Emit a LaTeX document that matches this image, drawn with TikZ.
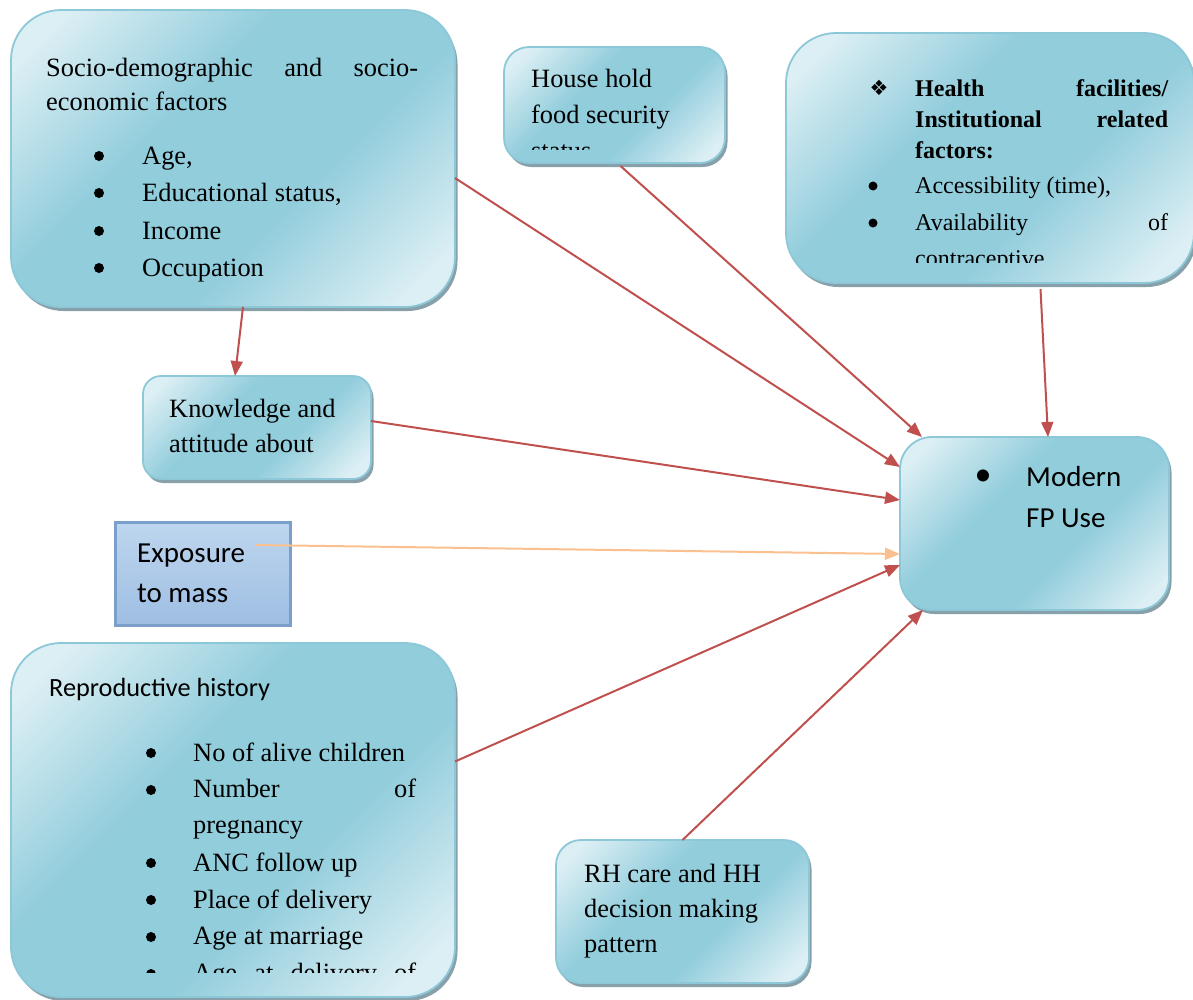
\documentclass[tikz,border=0pt]{standalone}
\usepackage{fontspec}
\setmainfont{Liberation Serif}
\newfontfamily\calibri{Carlito}
\newfontfamily\dejavu{DejaVu Sans}
\usetikzlibrary{arrows.meta,shadows}
\definecolor{gl}{RGB}{220,239,244}
\definecolor{gd}{RGB}{146,205,220}
\definecolor{bord}{RGB}{140,200,216}
\definecolor{shg}{RGB}{135,160,170}
\definecolor{arr}{RGB}{192,80,77}
\definecolor{org}{RGB}{250,192,144}
\definecolor{expt}{RGB}{190,214,239}
\definecolor{expb}{RGB}{158,190,226}
\definecolor{expd}{RGB}{122,159,203}
\pgfdeclareverticalshading{bluegrad}{100bp}{color(0bp)=(gl); color(20bp)=(gl); color(40bp)=(gd); color(60bp)=(gd); color(80bp)=(gl); color(100bp)=(gl)}
\tikzset{
  box/.style={draw=bord, line width=1.8pt, shade, shading=bluegrad, shading angle=45,
    inner sep=0, outer sep=0,
    drop shadow={shadow xshift=2.5pt, shadow yshift=-4pt, fill=shg, opacity=1}},
  expbox/.style={draw=expd, line width=3pt, top color=expt, bottom color=expb, inner sep=0, outer sep=0},
  txt/.style={anchor=base west, inner sep=0, font=\fontsize{26.4}{30}\selectfont},
  htxt/.style={anchor=base west, inner sep=0, font=\fontsize{24}{28}\selectfont},
  hbold/.style={anchor=base west, inner sep=0, font=\fontsize{24}{28}\selectfont\bfseries},
  cal/.style={anchor=base west, inner sep=0, font=\calibri\fontsize{29}{34}\selectfont},
  calsm/.style={anchor=base west, inner sep=0, font=\calibri\fontsize{26.3}{30}\selectfont},
  bul/.style={circle, fill=black, inner sep=0, minimum size=10pt},
  hbul/.style={circle, fill=black, inner sep=0, minimum size=9pt},
  cbul/.style={inner sep=0, font=\calibri\fontsize{34}{34}\selectfont},
  arrow/.style={draw=arr, line width=2pt, -{Triangle[length=15pt,width=12pt]}},
  oarrow/.style={draw=org, line width=2pt, -{Triangle[length=15pt,width=12pt]}}
}
\begin{document}
\begin{tikzpicture}[x=1pt,y=-1pt]
\useasboundingbox (0,0) rectangle (1193,999);

% boxes
\node[box, rounded corners=50pt, minimum width=444pt, minimum height=297pt] (socio) at (233,158.5) {};
\node[box, rounded corners=25pt, minimum width=221pt, minimum height=116pt] (house) at (614.5,105) {};
\node[box, rounded corners=50pt, minimum width=408pt, minimum height=250pt] (health) at (990,158) {};
\node[box, rounded corners=18pt, minimum width=228pt, minimum height=103pt] (know) at (257,427.5) {};
\node[expbox, minimum width=175pt, minimum height=103pt] (expo) at (202.5,573.5) {};
\node[box, rounded corners=32pt, minimum width=269pt, minimum height=173pt] (modern) at (1034.5,523.5) {};
\node[box, rounded corners=50pt, minimum width=444pt, minimum height=354pt] (repro) at (233,820) {};
\node[box, rounded corners=25pt, minimum width=253pt, minimum height=143pt] (rh) at (682.5,911.5) {};

% socio text
\node[txt] (s1) at (46,76) {\makebox[372pt][s]{Socio-demographic and socio-}};
\node[txt] (s2) at (46,110) {economic factors};
\node[bul] (sb1) at (99,156) {};
\node[bul] (sb2) at (99,193) {};
\node[bul] (sb3) at (99,231) {};
\node[bul] (sb4) at (99,268) {};
\node[txt] (s3) at (142,164) {Age,};
\node[txt] (s4) at (142,201) {Educational status,};
\node[txt] (s5) at (142,239) {Income};
\node[txt] (s6) at (142,276) {Occupation};

% house hold text
\begin{scope}
\clip (504,47) rectangle (725,149);
\node[txt] (h1) at (531,87) {House hold};
\node[txt] (h2) at (531,123) {food security};
\node[txt] (h3) at (531,159) {status};
\end{scope}

% health text
\begin{scope}
\clip (786,33) rectangle (1193,262);
\node[inner sep=0, font=\dejavu\fontsize{21}{21}\selectfont] (hd) at (879,88) {❖};
\node[hbold] (f1) at (915,96) {\makebox[253pt][s]{Health facilities/}};
\node[hbold] (f2) at (915,127) {\makebox[253pt][s]{Institutional related}};
\node[hbold] (f3) at (915,158) {factors:};
\node[hbul] (fb1) at (873,186) {};
\node[htxt] (f4) at (915,193) {Accessibility (time),};
\node[hbul] (fb2) at (873,223) {};
\node[htxt] (f5) at (915,230) {\makebox[253pt][s]{Availability of}};
\node[htxt] (f6) at (915,266) {contraceptive};
\end{scope}

% knowledge text
\node[txt] (k1) at (169,417) {Knowledge and};
\node[txt] (k2) at (169,452) {attitude about};

% exposure text
\node[cal] (e1) at (137,562) {Exposure};
\node[cal] (e2) at (137,602) {to mass};

% modern text
\node[cbul] (mb) at (983,478) {•};
\node[cal] (m1) at (1026,486) {Modern};
\node[cal] (m2) at (1026,527) {FP Use};

% reproductive text
\begin{scope}
\clip (11,643) rectangle (455,972);
\node[calsm] (r0) at (49,696) {Reproductive history};
\node[bul] (rb1) at (151,753) {};
\node[bul] (rb2) at (151,790) {};
\node[bul] (rb3) at (151,863) {};
\node[bul] (rb4) at (151,900) {};
\node[bul] (rb5) at (151,937) {};
\node[bul] (rb6) at (151,974) {};
\node[txt] (r1) at (193,761) {No of alive children};
\node[txt] (r2) at (193,797) {\makebox[223pt][s]{Number of}};
\node[txt] (r3) at (193,833) {pregnancy};
\node[txt] (r4) at (193,871) {ANC follow up};
\node[txt] (r5) at (193,908) {Place of delivery};
\node[txt] (r6) at (193,944) {Age at marriage};
\node[txt] (r7) at (193,981) {\makebox[223pt][s]{Age at delivery of}};
\end{scope}

% RH text
\node[txt] (q1) at (584,882) {RH care and HH};
\node[txt] (q2) at (584,917) {decision making};
\node[txt] (q3) at (584,952) {pattern};

% connectors
\draw[arrow] ([xshift=10pt]socio.south) -- ([xshift=-22pt]know.north);
\draw[arrow] ([yshift=-19.5pt]socio.east) -- ([yshift=56.5pt]modern.west);
\draw[arrow] ([xshift=6pt,yshift=-3pt]house.south) -- ([xshift=-112.5pt]modern.north);
\draw[arrow] ([xshift=50.5pt,yshift=-6pt]health.south) -- ([xshift=13.5pt]modern.north);
\draw[arrow] ([yshift=6.5pt]know.east) -- ([yshift=23.5pt]modern.west);
\draw[oarrow] ([xshift=52.5pt,yshift=28.5pt]expo.center) -- ([yshift=-30.5pt]modern.west);
\draw[arrow] ([yshift=58.5pt]repro.east) -- ([yshift=-41.5pt]modern.west);
\draw[arrow] (rh.north) -- ([xshift=-111.5pt]modern.south);
\end{tikzpicture}
\end{document}
